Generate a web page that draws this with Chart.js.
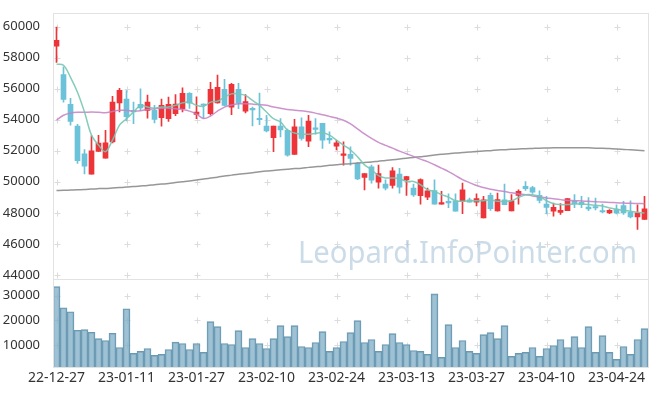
<!DOCTYPE html>
<html>
<head>
<meta charset="utf-8">
<script src="https://cdn.jsdelivr.net/npm/chart.js@4/dist/chart.umd.min.js"></script>
<style>
  html,body{margin:0;padding:0;background:#fff}
  #wrap{width:657px;height:396px;position:relative}
</style>
</head>
<body>
<div id="wrap"><canvas id="chart" width="657" height="396"></canvas></div>
<script>
const dates = ['22-12-27','22-12-28','22-12-29','23-01-02','23-01-03','23-01-04','23-01-05','23-01-06','23-01-09','23-01-10',
  '23-01-11','23-01-12','23-01-13','23-01-16','23-01-17','23-01-18','23-01-19','23-01-20','23-01-25','23-01-26',
  '23-01-27','23-01-30','23-01-31','23-02-01','23-02-02','23-02-03','23-02-06','23-02-07','23-02-08','23-02-09',
  '23-02-10','23-02-13','23-02-14','23-02-15','23-02-16','23-02-17','23-02-20','23-02-21','23-02-22','23-02-23',
  '23-02-24','23-02-27','23-02-28','23-03-02','23-03-03','23-03-06','23-03-07','23-03-08','23-03-09','23-03-10',
  '23-03-13','23-03-14','23-03-15','23-03-16','23-03-17','23-03-20','23-03-21','23-03-22','23-03-23','23-03-24',
  '23-03-27','23-03-28','23-03-29','23-03-30','23-03-31','23-04-03','23-04-04','23-04-05','23-04-06','23-04-07',
  '23-04-10','23-04-11','23-04-12','23-04-13','23-04-14','23-04-17','23-04-18','23-04-19','23-04-20','23-04-21',
  '23-04-24','23-04-25','23-04-26','23-04-27','23-04-28'];

const priceTicks = [44000,46000,48000,50000,52000,54000,56000,58000,60000];
const volumeTicks = [10000,20000,30000];

const opens = [58740,56910,54990,53600,51810,50490,51960,51530,52580,55090,
  55330,54600,55000,54610,54610,54130,54070,54390,54710,55710,
  54350,54990,54390,55090,55970,54820,55970,54560,54700,54080,
  53600,52850,53600,53320,51770,53540,52620,53420,53770,52740,
  52300,51700,51770,51190,50290,50960,49970,49850,49760,50490,
  50120,49590,49100,49010,49440,48560,48740,48780,48740,48840,
  48690,47670,49120,48120,48840,48120,49120,49700,49630,49120,
  48560,48100,48030,48140,48740,48670,48370,48370,48100,47990,
  48200,48460,48050,47730,47570];
const highs = [59980,57420,55390,53710,52080,52960,53000,53320,55520,56030,
  55890,55140,55990,55600,54930,55330,55460,55630,56060,55750,
  55480,55030,56420,56890,56610,56350,56350,55630,54820,55730,
  54290,53600,54070,53400,54030,54130,54290,54070,53770,53220,
  52680,52580,52260,51250,50530,51080,51080,50120,50910,50870,
  50360,49850,50190,49590,50120,49380,49230,49230,49910,48950,
  49230,49060,49270,49270,49850,49180,49480,50020,49700,49420,
  49060,48630,48590,48910,49180,49060,48990,48950,48560,48200,
  48520,48740,48780,48520,49060];
const lows = [57700,55140,53650,51190,50510,50490,51960,51530,52510,54500,
  53920,53750,54610,54100,53790,53590,53900,54260,54500,54740,
  54070,54110,54290,55070,54900,54330,54710,54450,53600,53690,
  53220,51940,52900,51650,51770,52680,52260,53070,52150,52470,
  52050,51080,51080,50130,49480,49910,49590,49480,49590,49270,
  49120,49060,48560,48840,48560,48560,48330,48100,47950,48690,
  48440,47670,48160,48100,48520,48120,48560,49440,49250,48630,
  47930,47780,47890,48140,48330,48330,48140,48180,47990,47950,
  47930,47890,47670,46930,47570];
const closes = [59120,55310,53900,51360,51000,52000,52490,52510,55140,55900,
  54200,54500,54760,55140,54030,54930,54990,55010,55710,55070,
  54500,54920,55970,56100,54930,56290,55070,55180,54640,54000,
  53280,53600,53340,51720,53540,52790,53920,53380,52680,52700,
  52510,51810,51510,50190,50530,50100,50530,49590,50700,49650,
  50340,49160,50140,49420,48560,48630,48630,48100,49480,48690,
  48910,48840,48270,48860,48520,48780,49380,49550,49330,48800,
  48350,48350,48160,48910,48590,48520,48250,48310,48050,48160,
  47990,47990,47730,47990,48250];

// moving averages
const ma5 = [57590,57520,56740,55780,54500,53010,52370,51940,52690,53650,
  54070,54500,54930,54820,54750,54820,54820,54930,55090,55140,
  54930,54860,55140,55200,55460,55670,55670,55570,55250,54930,
  54500,54070,53860,53330,53150,53070,53070,53110,53170,53010,
  52690,52370,52050,51620,51090,50780,50400,50250,50250,50210,
  50020,50020,49810,49490,49380,49170,49010,48780,48740,48780,
  48780,48780,48830,48740,48740,48780,48990,49170,49170,49060,
  48780,48590,48530,48530,48560,48560,48530,48480,48440,48310,
  48240,48160,48100,48030,47990];
const ma20 = [53970,54290,54430,54480,54480,54500,54480,54450,54540,54610,
  54610,54560,54580,54670,54710,54750,54750,54710,54660,54560,
  54370,54080,54240,54560,54820,54960,55030,55030,55010,54980,
  54930,54820,54750,54670,54620,54580,54520,54430,54320,54220,
  54110,53970,53730,53410,53090,52800,52540,52350,52170,51980,
  51810,51640,51460,51300,51100,50880,50660,50400,50140,49950,
  49760,49630,49520,49440,49380,49290,49220,49170,49090,49020,
  48960,48900,48850,48800,48780,48760,48740,48720,48690,48670,
  48650,48630,48610,48600,48590];
const ma60 = [49440,49450,49470,49490,49500,49540,49560,49570,49600,49630,
  49660,49700,49730,49760,49810,49850,49890,49950,50000,50050,
  50110,50180,50240,50300,50370,50430,50490,50540,50590,50650,
  50700,50730,50770,50810,50850,50880,50930,50970,51010,51060,
  51100,51140,51170,51210,51250,51280,51330,51370,51420,51470,
  51520,51570,51620,51670,51730,51780,51810,51850,51890,51920,
  51960,51990,52010,52050,52070,52100,52120,52130,52150,52170,
  52180,52190,52190,52190,52190,52190,52190,52170,52160,52140,
  52120,52090,52060,52030,52000];

const volumes = [33600,25080,23480,16000,16270,15200,12670,11870,14800,9070,
  24670,6670,7470,8670,5870,6270,8270,11200,10670,8270,
  10670,7070,19470,17470,10670,10270,15870,9070,12670,10670,
  8670,12670,17870,13470,17870,9470,9070,11070,15470,7470,
  9070,11470,15070,19870,11070,12270,7470,10270,14670,11070,
  10270,7870,7470,6270,30670,5070,18270,9070,11870,7470,
  6670,14270,15070,12670,17870,5470,6670,7070,9070,5470,
  8670,9870,12270,9070,13470,9070,17470,7070,13870,7070,
  4270,9470,6270,12270,16670];

const UP = '#ec3439', DOWN = '#6cc3d9';
const candleColors = opens.map((o,i)=> closes[i] >= o ? UP : DOWN);

Chart.defaults.font.family = "'Noto Sans', sans-serif";
Chart.defaults.font.size = 13;
Chart.defaults.color = '#333';

// grid crosses, watermark and frame
const decor = {
  id:'decor',
  beforeDatasetsDraw(chart){
    const {ctx, chartArea, scales:{x, y, yv}} = chart;
    ctx.save();
    ctx.strokeStyle = '#dcdcdc'; ctx.lineWidth = 1;
    const xs = [];
    for(let i=0;i<dates.length;i+=10) xs.push(Math.round(x.getPixelForValue(i))+0.5);
    [y, yv].forEach(s=>{
      s.ticks.forEach(t=>{
        const py = Math.round(s.getPixelForValue(t.value))+0.5;
        xs.forEach(px=>{
          ctx.beginPath();
          ctx.moveTo(px-3,py); ctx.lineTo(px+3,py);
          ctx.moveTo(px,py-3); ctx.lineTo(px,py+3);
          ctx.stroke();
        });
      });
    });
    // watermark
    const txt = 'Leopard.InfoPointer.com';
    ctx.font = "31px 'Noto Sans', sans-serif";
    ctx.fillStyle = 'rgba(160,192,214,0.55)';
    const w = ctx.measureText(txt).width, target = 339;
    ctx.translate(chartArea.right - target - 11, y.bottom - 16);
    ctx.scale(target/w, 1);
    ctx.textBaseline = 'alphabetic';
    ctx.fillText(txt, 0, 0);
    ctx.restore();
  },
  afterDraw(chart){
    const {ctx, scales:{y, yv}} = chart;
    ctx.save();
    ctx.strokeStyle = '#e2e2e2'; ctx.lineWidth = 1;
    [y, yv].forEach(s=>{
      ctx.strokeRect(Math.round(s.right)+0.5, Math.round(s.top)+0.5,
        Math.round(chart.chartArea.right - s.right), Math.round(s.bottom - s.top));
    });
    ctx.restore();
  }
};

const lineDs = (data, color)=>({type:'line', data, yAxisID:'y', borderColor:color, borderWidth:1.5,
  pointRadius:0, tension:0.35, fill:false, order:0});

new Chart(document.getElementById('chart'), {
  type:'bar',
  data:{
    labels: dates,
    datasets:[
      lineDs(ma5, 'rgba(120,198,178,0.9)'),
      lineDs(ma20, 'rgba(196,128,196,0.85)'),
      lineDs(ma60, 'rgba(140,140,140,0.9)'),
      {data: opens.map((o,i)=>[o, closes[i]]), yAxisID:'y', backgroundColor:candleColors,
        barThickness:5, minBarLength:1.5, grouped:false, order:1},
      {data: lows.map((l,i)=>[l, highs[i]]), yAxisID:'y', backgroundColor:candleColors,
        barThickness:1, grouped:false, order:2},
      {data: volumes, yAxisID:'yv', backgroundColor:'rgba(126,172,196,0.75)', borderColor:'rgba(92,142,168,0.9)',
        borderWidth:{top:1,left:1,right:1,bottom:0}, barPercentage:1, categoryPercentage:1, grouped:false, order:3}
    ]
  },
  options:{
    responsive:false, animation:false,
    layout:{padding:{left:0, right:9, top:10, bottom:0}},
    plugins:{legend:{display:false}, tooltip:{enabled:false}},
    scales:{
      x:{offset:true, grid:{display:false, drawTicks:false}, border:{display:false},
        ticks:{autoSkip:false, maxRotation:0, padding:3, font:{size:14}, callback:(v,i)=> i%10===0 ? dates[i] : ''},
        afterFit(s){ s.height = 29; }},
      yv:{stack:'main', stackWeight:89, position:'left', min:1200, max:36800,
        grid:{display:false}, border:{display:false},
        ticks:{padding:5, autoSkip:false, callback:v=>String(v)},
        afterBuildTicks(s){ s.ticks = volumeTicks.map(v=>({value:v})); },
        afterFit(s){ s.width = 53; }},
      y:{stack:'main', stackWeight:268, position:'left', min:43750, max:60900,
        grid:{display:false}, border:{display:false},
        ticks:{padding:5, autoSkip:false, callback:v=>String(v)},
        afterBuildTicks(s){ s.ticks = priceTicks.map(v=>({value:v})); },
        afterFit(s){ s.width = 53; }}
    }
  },
  plugins:[decor]
});
</script>
</body>
</html>
